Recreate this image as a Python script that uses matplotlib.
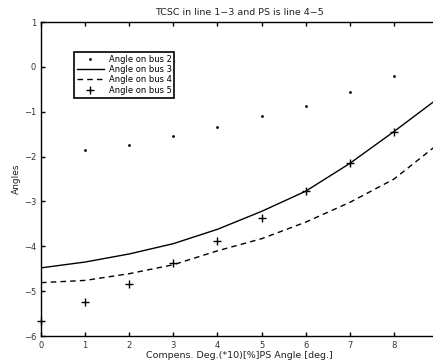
import matplotlib
matplotlib.use("Agg")
import matplotlib.pyplot as plt
import numpy as np

# values
x_pts = [1, 2, 3, 4, 5, 6, 7, 8]
bus2 = [-1.86, -1.73, -1.55, -1.33, -1.10, -0.86, -0.55, -0.20]

x_line = [0, 1, 2, 3, 4, 5, 6, 7, 8, 9]
bus3 = [-4.48, -4.35, -4.17, -3.94, -3.62, -3.22, -2.77, -2.15, -1.44, -0.70]
bus4 = [-4.81, -4.76, -4.61, -4.41, -4.10, -3.83, -3.46, -3.02, -2.50, -1.72]

x_bus5 = [0, 1, 2, 3, 4, 5, 6, 7, 8]
bus5 = [-5.67, -5.24, -4.84, -4.37, -3.88, -3.37, -2.77, -2.14, -1.46]

labels = ['Angle on bus 2', 'Angle on bus 3', 'Angle on bus 4', 'Angle on bus 5']

plt.rcParams['font.family'] = 'DejaVu Sans'
fig = plt.figure(figsize=(4.33, 3.62), dpi=100)
ax = fig.add_axes([0.0947, 0.0718, 0.917, 0.867])

ax.plot(x_pts, bus2, linestyle='none', marker='.', markersize=2, color='black', label=labels[0])
ax.plot(x_line, bus3, '-', color='black', linewidth=1.0, label=labels[1])
ax.plot(x_line, bus4, '--', color='black', linewidth=1.0, dashes=(4, 3), label=labels[2])
ax.plot(x_bus5, bus5, linestyle='none', marker='+', markersize=5.5, markeredgewidth=1.0,
        color='black', label=labels[3], clip_on=False)

ax.set_xlim(0, 9)
ax.set_ylim(-6, 1)
ax.set_xticks(range(0, 9))
ax.set_yticks(range(-6, 2))
ax.tick_params(direction='in', top=True, right=True, labelsize=6, length=3, width=1,
               labelcolor='#333333')
for s in ax.spines.values():
    s.set_linewidth(1.0)

ax.set_title('TCSC in line 1\u22123 and PS is line 4\u22125', fontsize=6.8, pad=5, color='#222222')
ax.set_xlabel('Compens. Deg.(*10)[%]PS Angle [deg.]', fontsize=6.8, labelpad=1, color='#222222')
ax.set_ylabel('Angles', fontsize=6.5, labelpad=2, color='#222222')

leg = ax.legend(loc='upper left', bbox_to_anchor=(0.083, 0.905), borderaxespad=0,
                fontsize=6, fancybox=False, edgecolor='black', framealpha=1,
                handlelength=3.2, handletextpad=0.6, labelspacing=0.15, borderpad=0.35)
leg.get_frame().set_linewidth(1.2)

fig.savefig('out.png', dpi=100)
